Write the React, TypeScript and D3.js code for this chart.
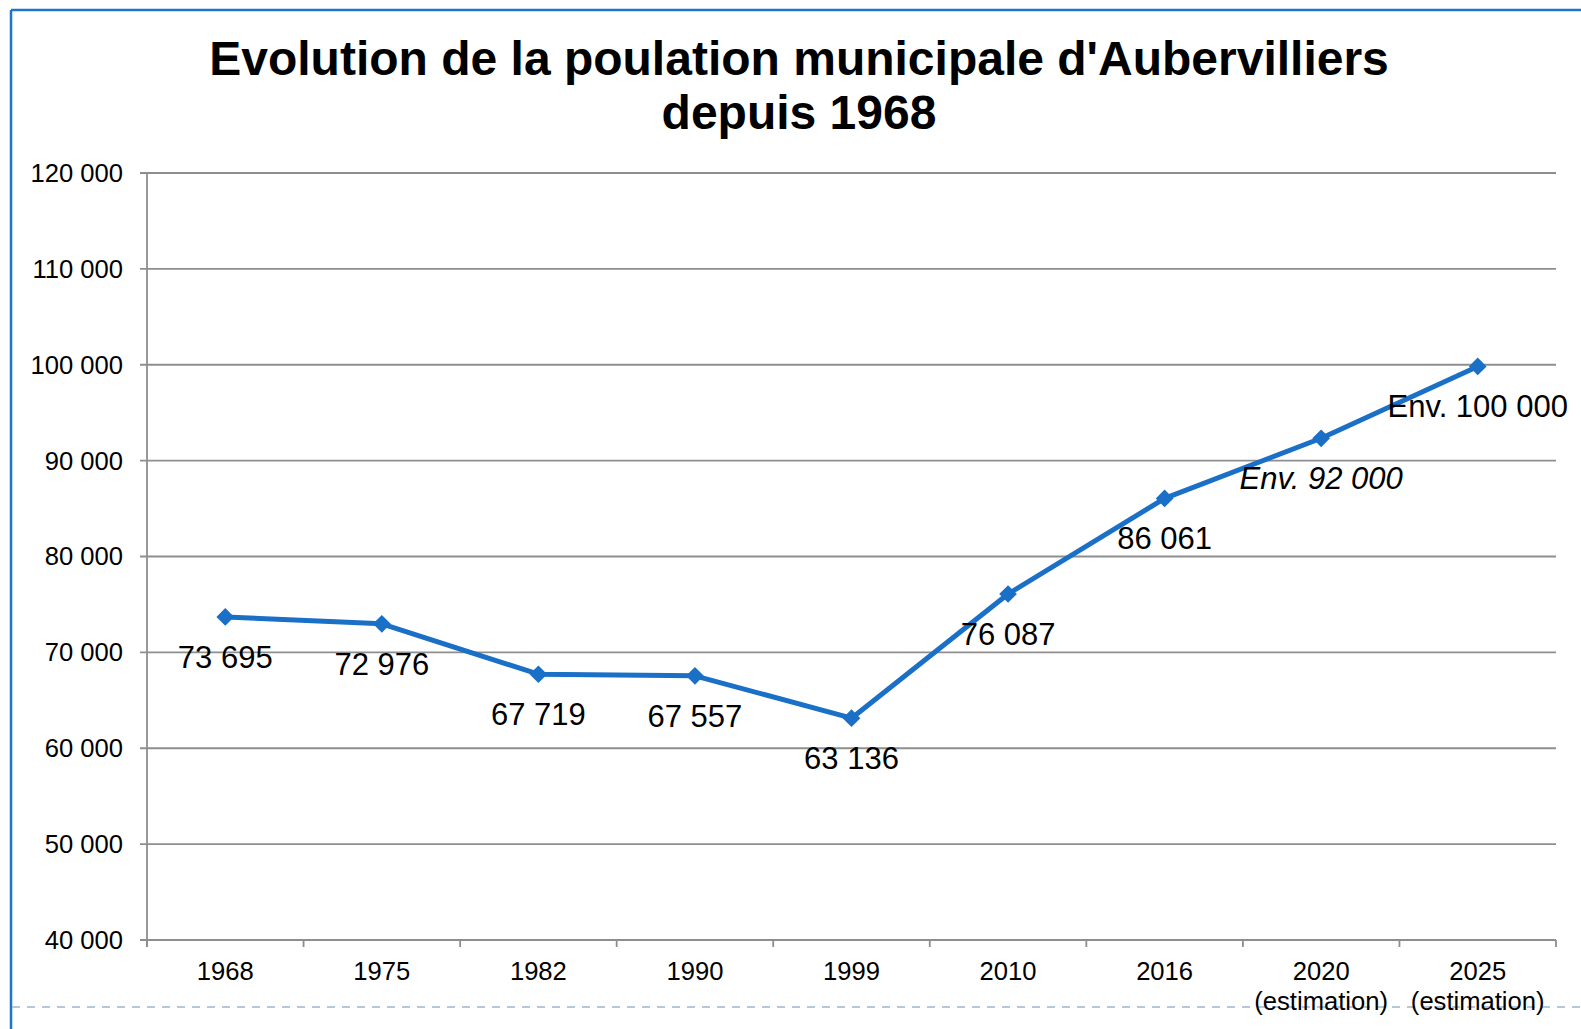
import React from "react";
import * as d3 from "d3";

const years = ["1968", "1975", "1982", "1990", "1999", "2010", "2016", "2020", "2025"];
const subLabels = ["", "", "", "", "", "", "", "(estimation)", "(estimation)"];
const population = [73695, 72976, 67719, 67557, 63136, 76087, 86061, 92330, 99820];
const pointLabels = ["73 695", "72 976", "67 719", "67 557", "63 136", "76 087", "86 061", "Env. 92 000", "Env. 100 000"];
const italicLabel = [false, false, false, false, false, false, false, true, false];
const yTicks = [40000, 50000, 60000, 70000, 80000, 90000, 100000, 110000, 120000];
const titleLines = ["Evolution de la poulation municipale d'Aubervilliers", "depuis 1968"];

const W = 1581;
const H = 1029;
const left = 147;
const right = 1556;
const top = 173;
const bottom = 940;

const fmt = (v: number) => d3.format(",")(v).replace(/,/g, " ");

export default function App() {
  const x = d3.scaleBand<string>().domain(years).range([left, right]).paddingInner(0).paddingOuter(0);
  const y = d3.scaleLinear().domain([40000, 120000]).range([bottom, top]);
  const cx = (d: string) => (x(d) as number) + x.bandwidth() / 2;
  const pts: [number, number][] = years.map((yr, i) => [cx(yr), y(population[i])]);
  const line = d3.line<[number, number]>().x((d) => d[0]).y((d) => d[1]);
  const font = "'Liberation Sans', Arial, sans-serif";
  const blue = "#1a6fc6";
  const grid = "#8e8e8e";
  const boundaries = years.map((yr) => x(yr) as number).concat([right]);
  const diamond = d3.symbol().type(d3.symbolDiamond2).size(200)() || "";

  return (
    <svg
      width={W}
      height={H}
      style={{ position: "absolute", left: 0, top: 0, display: "block", background: "#fff" }}
      fontFamily={font}
    >
      <rect x={0} y={0} width={W} height={H} fill="#fff" />
      {/* frame */}
      <line x1={11} y1={10} x2={W} y2={10} stroke="#1f74cc" strokeWidth={2.5} />
      <line x1={11} y1={10} x2={11} y2={H} stroke="#1f74cc" strokeWidth={2.5} />
      <line x1={12} y1={1007} x2={W} y2={1007} stroke="#9db7cf" strokeWidth={1.5} strokeDasharray="8 7" />

      {/* title */}
      {titleLines.map((t, i) => (
        <text key={i} x={799} y={75 + i * 54} textAnchor="middle" fontSize={48} fontWeight="bold" fill="#000">
          {t}
        </text>
      ))}

      {/* gridlines & y ticks */}
      {yTicks.map((v) => (
        <g key={v}>
          <line x1={140} x2={right} y1={y(v)} y2={y(v)} stroke={grid} strokeWidth={1.8} />
          <text x={123} y={y(v)} dy="0.35em" textAnchor="end" fontSize={25.6} fill="#000">
            {fmt(v)}
          </text>
        </g>
      ))}
      {/* y axis */}
      <line x1={left} x2={left} y1={top} y2={bottom + 7} stroke={grid} strokeWidth={1.8} />
      {/* x ticks */}
      {boundaries.map((b, i) => (
        <line key={i} x1={b} x2={b} y1={bottom} y2={bottom + 7} stroke={grid} strokeWidth={1.8} />
      ))}
      {years.map((yr, i) => (
        <g key={yr}>
          <text x={cx(yr)} y={980} textAnchor="middle" fontSize={25.6} fill="#000">
            {yr}
          </text>
          {subLabels[i] && (
            <text x={cx(yr)} y={1010} textAnchor="middle" fontSize={25.6} fill="#000">
              {subLabels[i]}
            </text>
          )}
        </g>
      ))}

      {/* series */}
      <path d={line(pts) || ""} fill="none" stroke={blue} strokeWidth={5} strokeLinejoin="round" />
      {pts.map((p, i) => (
        <path key={i} d={diamond} transform={`translate(${p[0]},${p[1]})`} fill={blue} />
      ))}
      {pts.map((p, i) => (
        <text
          key={"l" + i}
          x={p[0]}
          y={p[1] + 51}
          textAnchor="middle"
          fontSize={31}
          fontStyle={italicLabel[i] ? "italic" : "normal"}
          fill="#000"
        >
          {pointLabels[i]}
        </text>
      ))}
    </svg>
  );
}
